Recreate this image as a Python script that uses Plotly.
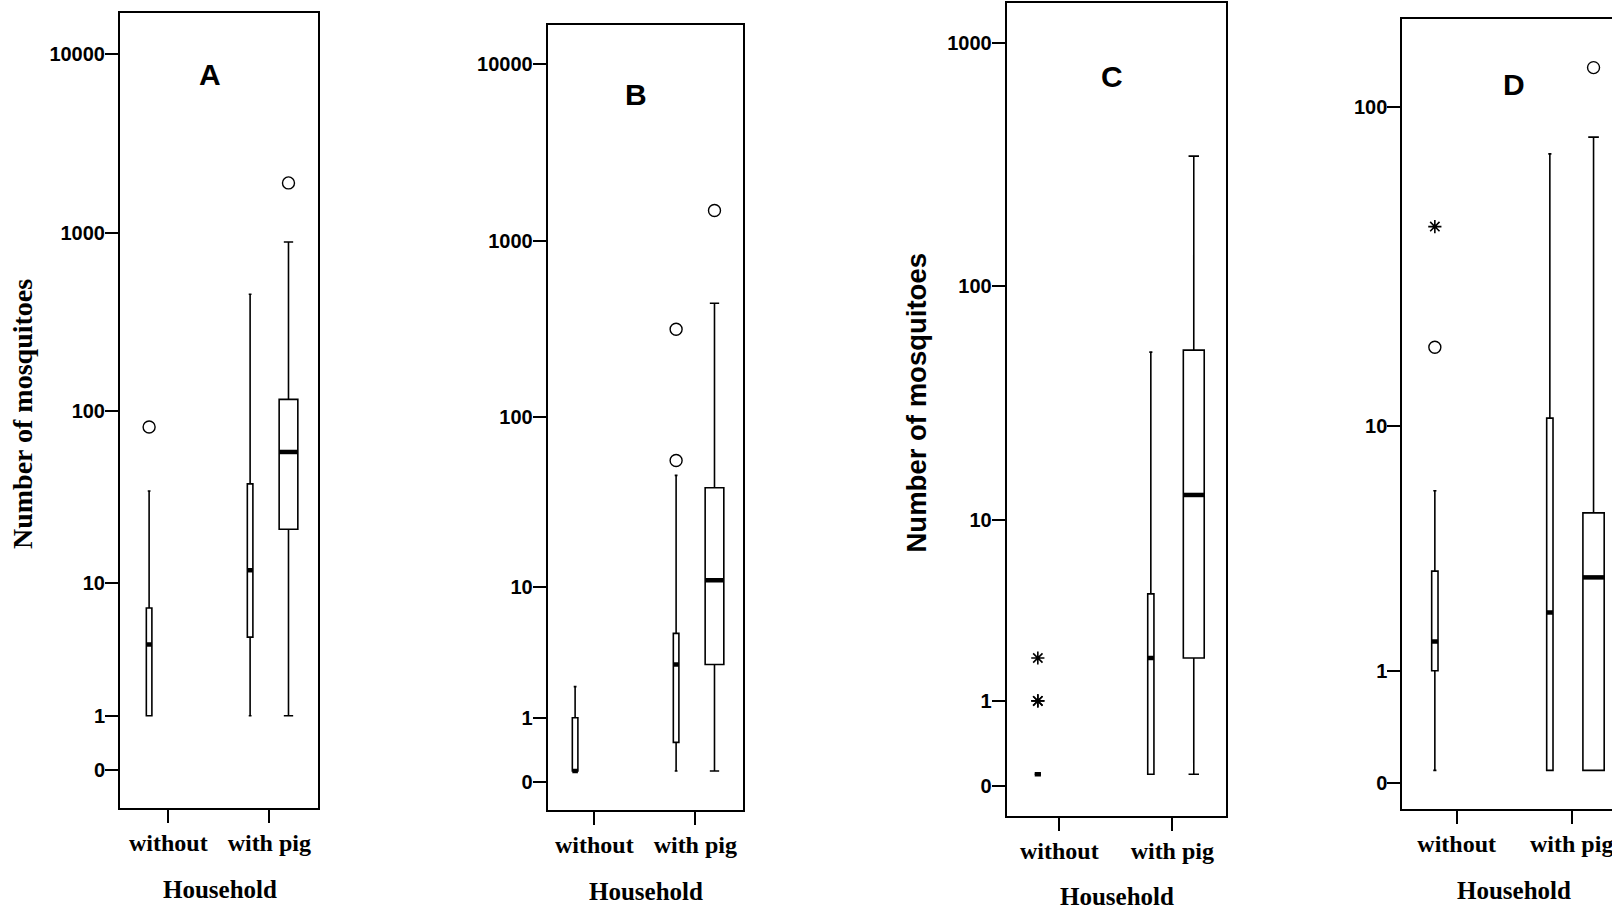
import plotly.graph_objects as go

W, H = 1612, 910

# ---------------- data ----------------
CATEGORIES = ["without", "with pig"]
PANELS = ["A", "B", "C", "D"]
Y_TICKS_A = [0, 1, 10, 100, 1000, 10000]
Y_TICKS_B = [0, 1, 10, 100, 1000, 10000]
Y_TICKS_C = [0, 1, 10, 100, 1000]
Y_TICKS_D = [0, 1, 10, 100]

BOX_PANEL = ["A", "A", "A", "B", "B", "B", "C", "C", "C", "D", "D", "D"]
BOX_CATEGORY = ["without", "with pig", "with pig"] * 4
BOX_GROUP = [1, 1, 2] * 4
BOX_Q1 = [1, 4.5, 21, 0, 0.45, 3, 0, 0, 2, 1, 0, 0]
BOX_MEDIAN = [4, 12, 58.5, 0, 3, 11, 0, 2, 13, 1.45, 2, 2.83]
BOX_Q3 = [7, 38.5, 116, 1, 5, 39, 0, 4.5, 54, 3, 10.6, 5]
BOX_LOWER = [1, 1, 1, 0, 0, 0, 0, 0, 0, 0, 0, 0]
BOX_UPPER = [35, 452, 885, 2, 46, 441, 0, 53, 343, 6, 72, 81]

OUT_PANEL = ["A", "A", "B", "B", "B", "C", "C", "C", "D", "D", "D"]
OUT_CATEGORY = ["without", "with pig", "with pig", "with pig", "with pig",
                "without", "without", "without", "without", "without", "with pig"]
OUT_GROUP = [1, 2, 1, 1, 2, 1, 1, 1, 1, 1, 2]
OUT_VALUE = [81, 1895, 56, 314, 1478, 2, 1, 1, 18, 43, 132]
OUT_KIND = ["o", "o", "o", "o", "o", "*", "*", "*", "o", "*", "o"]

# ---------------- layout / style ----------------
Y_TICKS = {"A": Y_TICKS_A, "B": Y_TICKS_B, "C": Y_TICKS_C, "D": Y_TICKS_D}
GROUP_OFFSET = {1: -0.19, 2: 0.19}
GROUP_WIDTH = {1: 0.055, 2: 0.185}

LAYOUT = {
    "A": dict(frame=(120, 13, 318, 808), cats=(168.3, 269.3), yrange=(-0.2145, 4.227),
              zero_shift=0.0, letter=(209.7, 74.5), mirror_y=True, xlabel_x=220),
    "B": dict(frame=(547.7, 24.9, 742.7, 810), cats=(594.3, 695.3), yrange=(-0.221, 4.22),
              zero_shift=-0.0636, letter=(635.8, 94.2), mirror_y=True, xlabel_x=645.6),
    "C": dict(frame=(1006.7, 2.5, 1226, 815.7), cats=(1059.3, 1172.3), yrange=(-0.170, 3.167),
              zero_shift=-0.0464, letter=(1111.7, 76.5), mirror_y=True, xlabel_x=1116.5),
    "D": dict(frame=(1402.3, 19.1, 1612, 809.3), cats=(1456.7, 1571.7), yrange=(-0.1177, 2.2705),
              zero_shift=-0.0389, letter=(1513.7, 84.9), mirror_y=False, xlabel_x=1514),
}

SANS = "Liberation Sans, Arial, sans-serif"
SERIF = "Liberation Serif, Times New Roman, serif"


def pxx(x):
    return x / W


def pxy(y):
    return 1 - y / H


fig = go.Figure()
annotations = []

for i, p in enumerate(PANELS):
    L = LAYOUT[p]
    sfx = "" if i == 0 else str(i + 1)
    xa, ya = "x" + sfx, "y" + sfx
    left, top, right, bottom = L["frame"]
    c0, c1 = L["cats"]
    unit = c1 - c0
    xr = [(left - c0) / unit, (right - c0) / unit]

    # boxes
    for k in range(len(BOX_PANEL)):
        if BOX_PANEL[k] != p:
            continue
        pos = CATEGORIES.index(BOX_CATEGORY[k]) + GROUP_OFFSET[BOX_GROUP[k]]
        w = GROUP_WIDTH[BOX_GROUP[k]]
        fig.add_trace(go.Box(
            x=[pos], q1=[BOX_Q1[k] + 1], median=[BOX_MEDIAN[k] + 1], q3=[BOX_Q3[k] + 1],
            lowerfence=[BOX_LOWER[k] + 1], upperfence=[BOX_UPPER[k] + 1],
            width=w, whiskerwidth=0.5, fillcolor="white",
            line=dict(color="black", width=1.6), boxpoints=False,
            xaxis=xa, yaxis=ya, showlegend=False, hoverinfo="skip"))
        fig.add_trace(go.Scatter(
            x=[pos - w / 2, pos + w / 2], y=[BOX_MEDIAN[k] + 1, BOX_MEDIAN[k] + 1],
            mode="lines", line=dict(color="black", width=4.5),
            xaxis=xa, yaxis=ya, showlegend=False, hoverinfo="skip"))

    # outliers
    for kind, sym, size in (("o", "circle-open", 12), ("*", "asterisk-open", 11)):
        xs, ys = [], []
        for k in range(len(OUT_PANEL)):
            if OUT_PANEL[k] == p and OUT_KIND[k] == kind:
                xs.append(CATEGORIES.index(OUT_CATEGORY[k]) + GROUP_OFFSET[OUT_GROUP[k]])
                ys.append(OUT_VALUE[k] + 1)
        if xs:
            fig.add_trace(go.Scatter(
                x=xs, y=ys, mode="markers",
                marker=dict(symbol=sym, size=size, color="black",
                            line=dict(color="black", width=1.6 if kind == "*" else 1.4)),
                xaxis=xa, yaxis=ya, showlegend=False, hoverinfo="skip"))

    ticks = Y_TICKS[p]
    tickvals = [(v + 1) * (10 ** L["zero_shift"] if v == 0 else 1) for v in ticks]

    fig.layout["xaxis" + sfx] = dict(
        domain=[pxx(left), min(1.0, pxx(right))], range=xr, anchor=ya,
        tickmode="array", tickvals=[0, 1], ticktext=CATEGORIES,
        ticks="outside", ticklen=13, tickwidth=2, tickcolor="black",
        showline=True, linecolor="black", linewidth=2, mirror=True,
        showgrid=False, zeroline=False, fixedrange=True, ticklabelstandoff=-1,
        ticklabeloverflow="allow",
        tickfont=dict(family=SERIF, size=24, color="black", weight="bold"))
    fig.layout["yaxis" + sfx] = dict(
        domain=[pxy(bottom), pxy(top)], type="log", range=list(L["yrange"]), anchor=xa,
        tickmode="array", tickvals=tickvals, ticktext=[str(v) for v in ticks],
        ticks="outside", ticklen=13, tickwidth=2, tickcolor="black",
        showline=True, linecolor="black", linewidth=2, mirror=L["mirror_y"],
        showgrid=False, zeroline=False, fixedrange=True, ticklabelstandoff=-4,
        tickfont=dict(family=SANS, size=20, color="black", weight="bold"))

    # panel letter
    lx, ly = L["letter"]
    annotations.append(dict(x=pxx(lx), y=pxy(ly), xref="paper", yref="paper", text=p,
                            showarrow=False, xanchor="center", yanchor="middle",
                            font=dict(family=SANS, size=30, color="black", weight="bold")))
    # x title
    annotations.append(dict(x=pxx(L["xlabel_x"]), y=pxy(bottom + 81), xref="paper", yref="paper",
                            text="Household", showarrow=False, xanchor="center", yanchor="middle",
                            font=dict(family=SERIF, size=25, color="black", weight="bold")))

annotations.append(dict(x=pxx(23), y=pxy(414), xref="paper", yref="paper",
                        text="Number of mosquitoes", textangle=-90, showarrow=False,
                        xanchor="center", yanchor="middle",
                        font=dict(family=SERIF, size=28, color="black", weight="bold")))
annotations.append(dict(x=pxx(916), y=pxy(403.5), xref="paper", yref="paper",
                        text="Number of mosquitoes", textangle=-90, showarrow=False,
                        xanchor="center", yanchor="middle",
                        font=dict(family=SANS, size=27.5, color="black", weight="bold")))

fig.update_layout(
    width=W, height=H, margin=dict(l=0, r=0, t=0, b=0),
    paper_bgcolor="white", plot_bgcolor="white",
    annotations=annotations, showlegend=False, boxmode="overlay")

fig.write_html("out.html", config={"displayModeBar": False},
               post_script="document.body.style.margin='0px';document.body.style.overflow='hidden';")
